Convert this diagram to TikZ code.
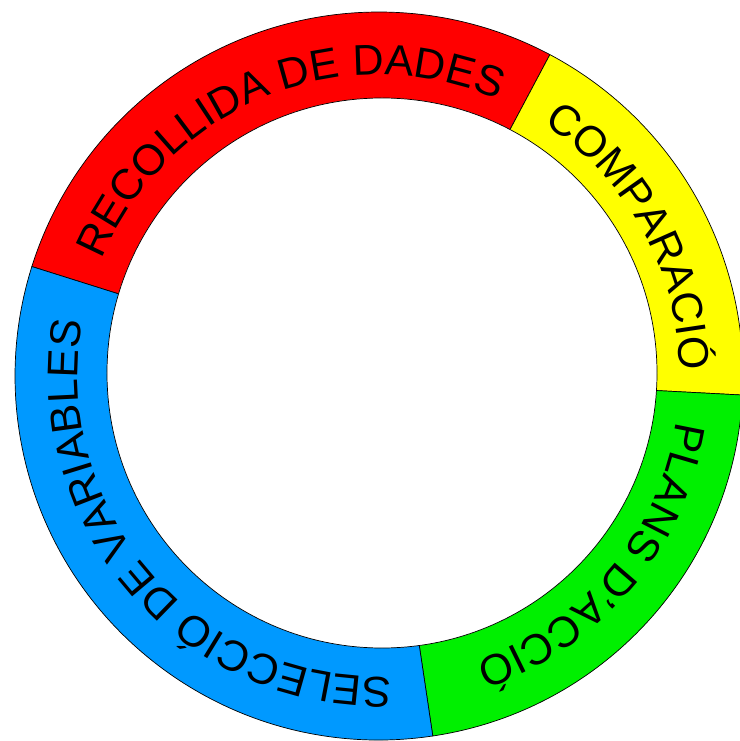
\documentclass[tikz,border=0pt]{standalone}
\usepackage{fontspec}
\setmainfont{Liberation Sans}
\usetikzlibrary{decorations.text}
\definecolor{segred}{RGB}{255,0,0}
\definecolor{segyellow}{RGB}{255,255,0}
\definecolor{seggreen}{RGB}{0,240,0}
\definecolor{segblue}{RGB}{0,153,255}
\newcommand{\ringfont}{\fontsize{43}{50}\selectfont}

\begin{document}
\begin{tikzpicture}[x=1pt,y=1pt]
    \tikzstyle{segment}=[draw=black,line width=0.7pt]
    \tikzstyle{ringtext}=[decorate,decoration={text along path,text align=center}]

    \useasboundingbox (-379,-365) rectangle (360,376);

    \coordinate (O) at (0,0);
    \coordinate (I) at (3,3);

    % the four sectors of the ring
    \filldraw[segment, fill=segred] (O) -- (162.5:364) arc[start angle=162.5, end angle=62, radius=364] -- cycle;
    \filldraw[segment, fill=segyellow] (O) -- (62:364) arc[start angle=62, end angle=-3, radius=364] -- cycle;
    \filldraw[segment, fill=seggreen] (O) -- (-3:364) arc[start angle=-3, end angle=-81.5, radius=364] -- cycle;
    \filldraw[segment, fill=segblue] (O) -- (278.5:364) arc[start angle=278.5, end angle=162.5, radius=364] -- cycle;
    \filldraw[segment, fill=white] (I) circle[radius=275];

    % labels along the ring
    \path[ringtext, decoration={text={|\ringfont|RECOLLIDA DE DADES}}]
        (162:301) arc[start angle=162, end angle=62, radius=301];
    \path[ringtext, decoration={text={|\ringfont|COMPARACIÓ}}]
        (61:301) arc[start angle=61, end angle=-3, radius=301];
    \path[ringtext, decoration={text={|\ringfont|PLANS D'ACCIÓ}}]
        (-2:301) arc[start angle=-2, end angle=-78, radius=301];
    \path[ringtext, decoration={text={|\ringfont|SELECCIÓ DE VARIABLES}}]
        (278:301) arc[start angle=278, end angle=164, radius=301];

\end{tikzpicture}
\end{document}
